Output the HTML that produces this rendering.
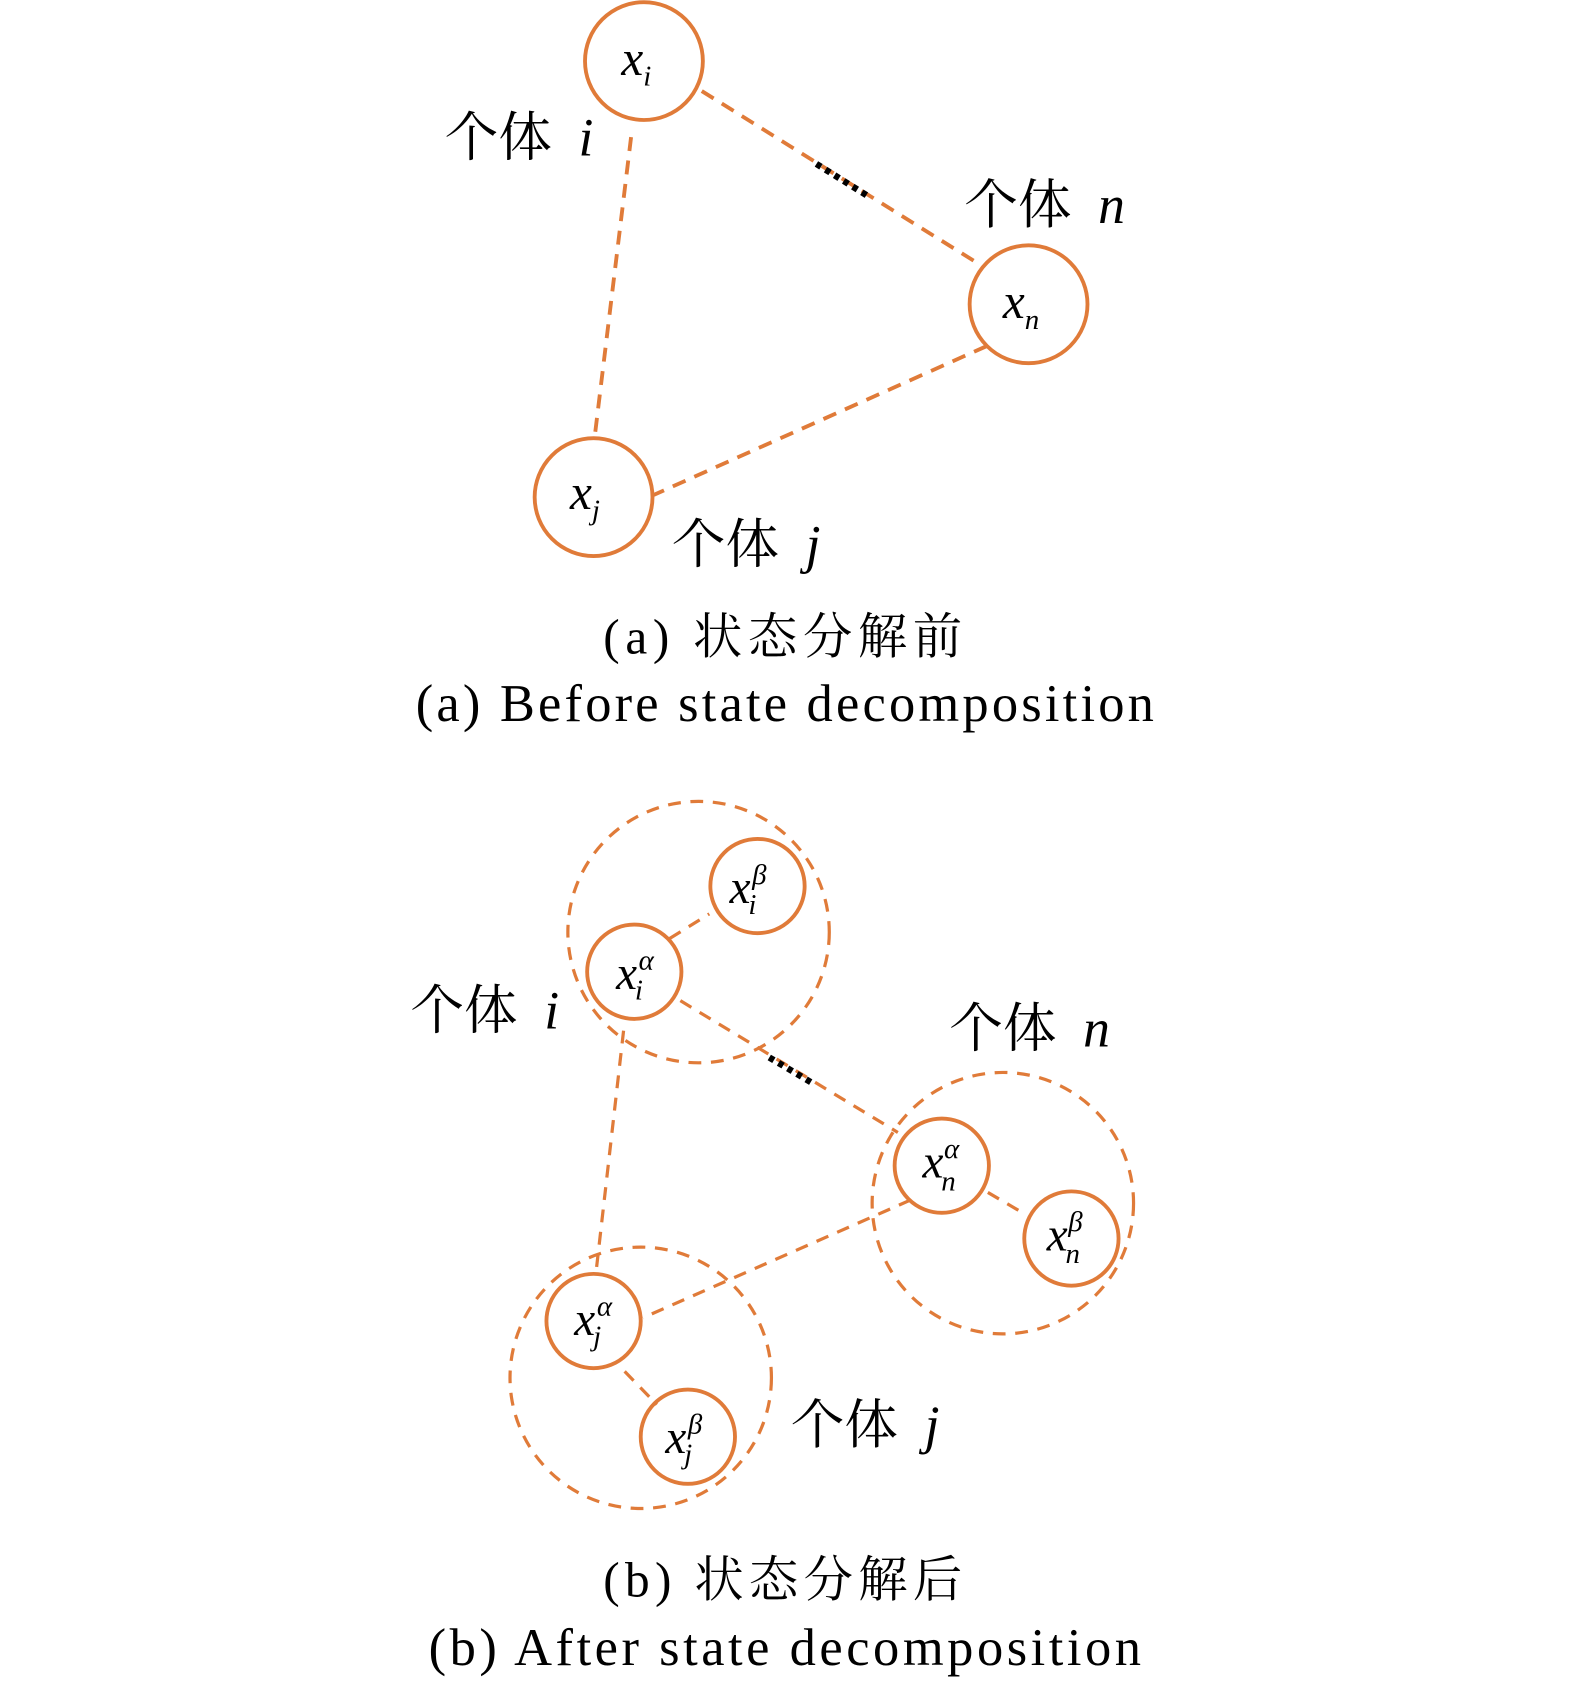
<!DOCTYPE html>
<html><head><meta charset="utf-8"><style>
html,body{margin:0;padding:0;background:#fff;}
svg{display:block;}
.c{fill:none;stroke:#E07B39;stroke-width:3.6;}
.b{fill:none;stroke:#E07B39;stroke-width:3;stroke-dasharray:12 9;}
.l{stroke:#E07B39;stroke-width:3.6;stroke-dasharray:13 9;fill:none;}
.l2{stroke:#E07B39;stroke-width:3;stroke-dasharray:12 9;fill:none;}
.d{stroke:#000;stroke-width:6;stroke-dasharray:5 5;fill:none;}
.m{font-family:"Liberation Serif",serif;font-style:italic;fill:#000;}
.t{font-family:"Liberation Serif","Noto Serif CJK SC",serif;fill:#000;}
</style></head><body>
<svg width="1575" height="1687" viewBox="0 0 1470 1574.6" xmlns="http://www.w3.org/2000/svg">
<!-- (a) -->
<line class="l" x1="589" y1="128" x2="555" y2="408"/>
<line class="l" x1="655" y1="85" x2="913" y2="246"/>
<line class="d" x1="762" y1="153" x2="810" y2="183"/>
<line class="l" x1="921" y1="323" x2="610" y2="462"/>
<circle class="c" cx="601" cy="57" r="55" fill="#fff"/>
<circle class="c" cx="960" cy="284" r="55"/>
<circle class="c" cx="554" cy="464" r="55"/>
<text class="m" x="580" y="70" font-size="46">x<tspan font-size="27" dy="10">i</tspan></text>
<text class="m" x="936" y="297" font-size="46">x<tspan font-size="27" dy="10">n</tspan></text>
<text class="m" x="532" y="475" font-size="46">x<tspan font-size="27" dy="10">j</tspan></text>
<text class="t" x="415" y="145" font-size="50">个体<tspan class="m" dx="25">i</tspan></text>
<text class="t" x="900" y="208" font-size="50">个体<tspan class="m" dx="25">n</tspan></text>
<text class="t" x="627" y="525" font-size="50">个体<tspan class="m" dx="25">j</tspan></text>
<text class="t" x="563" y="610" font-size="46" textLength="335" lengthAdjust="spacing">(a) 状态分解前</text>
<text class="t" x="388" y="673" font-size="49" textLength="689" lengthAdjust="spacing">(a) Before state decomposition</text>
<!-- (b) -->
<circle class="b" cx="652" cy="870" r="122"/>
<circle class="b" cx="936" cy="1123" r="122"/>
<circle class="b" cx="598" cy="1286" r="122"/>
<line class="l2" x1="625" y1="876" x2="662" y2="853"/>
<line class="l2" x1="922" y1="1113" x2="958" y2="1134"/>
<line class="l2" x1="583" y1="1280" x2="613" y2="1311"/>
<line class="l2" x1="635" y1="934" x2="838" y2="1057"/>
<line class="d" x1="718" y1="987" x2="760" y2="1012"/>
<line class="l2" x1="582" y1="962" x2="556" y2="1190"/>
<line class="l2" x1="850" y1="1120" x2="600" y2="1230"/>
<circle class="c" cx="707" cy="827" r="44" fill="#fff"/>
<circle class="c" cx="592" cy="907" r="44" fill="#fff"/>
<circle class="c" cx="879" cy="1088" r="44" fill="#fff"/>
<circle class="c" cx="1000" cy="1156" r="44" fill="#fff"/>
<circle class="c" cx="554" cy="1233" r="44" fill="#fff"/>
<circle class="c" cx="642" cy="1341" r="44" fill="#fff"/>
<text class="m" x="681" y="843" font-size="44">x<tspan font-size="27" dx="-2" dy="10">i</tspan><tspan font-size="27" dx="-4" dy="-28">β</tspan></text>
<text class="m" x="575" y="923" font-size="44">x<tspan font-size="27" dx="-2" dy="10">i</tspan><tspan font-size="27" dx="-4" dy="-28">α</tspan></text>
<text class="m" x="861" y="1099" font-size="44">x<tspan font-size="27" dx="-2" dy="12">n</tspan><tspan font-size="27" dx="-11" dy="-30">α</tspan></text>
<text class="m" x="977" y="1167" font-size="44">x<tspan font-size="27" dx="-2" dy="12">n</tspan><tspan font-size="27" dx="-11" dy="-30">β</tspan></text>
<text class="m" x="536" y="1246" font-size="44">x<tspan font-size="27" dx="-2" dy="10">j</tspan><tspan font-size="27" dx="-4" dy="-28">α</tspan></text>
<text class="m" x="621" y="1356" font-size="44">x<tspan font-size="27" dx="-2" dy="10">j</tspan><tspan font-size="27" dx="-4" dy="-28">β</tspan></text>
<text class="t" x="383" y="960" font-size="50">个体<tspan class="m" dx="25">i</tspan></text>
<text class="t" x="886" y="977" font-size="50">个体<tspan class="m" dx="25">n</tspan></text>
<text class="t" x="738" y="1347" font-size="50">个体<tspan class="m" dx="25">j</tspan></text>
<text class="t" x="563" y="1490" font-size="46" textLength="335" lengthAdjust="spacing">(b) 状态分解后</text>
<text class="t" x="400" y="1554" font-size="49" textLength="665" lengthAdjust="spacing">(b) After state decomposition</text>
</svg>
</body></html>
